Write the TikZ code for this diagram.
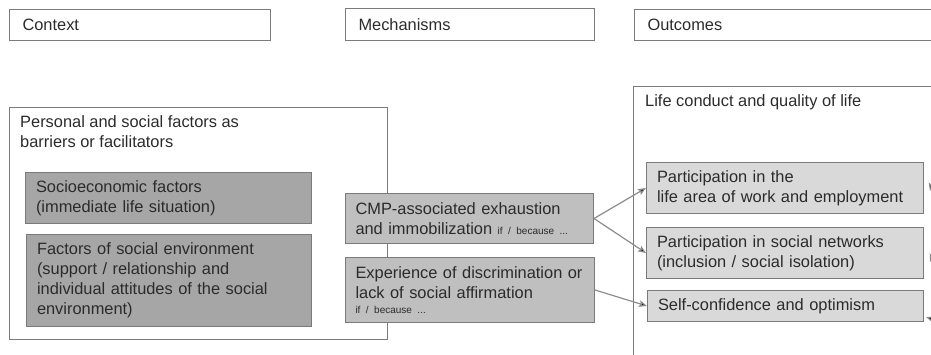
\documentclass[tikz,border=0pt]{standalone}
\usepackage{fontspec}
\setmainfont{Liberation Sans}
\usetikzlibrary{arrows.meta,positioning}
\definecolor{boxline}{HTML}{7A7A7A}
\definecolor{arrowgray}{HTML}{8C8C8C}
\definecolor{textgray}{HTML}{2B2B2B}
\definecolor{ctxfill}{HTML}{A6A6A6}
\definecolor{mechfill}{HTML}{BFBFBF}
\definecolor{outfill}{HTML}{D9D9D9}
\newcommand{\ifbecause}{{\fontsize{10}{12}\selectfont if / because ...}}

\begin{document}
\begin{tikzpicture}[x=1pt, y=-1pt, >={Stealth[length=8pt,width=6.5pt,inset=1.5pt]}, font=\fontsize{16.4}{20}\selectfont, text=textgray]
\tikzstyle{frame}=[draw=boxline, line width=1pt, anchor=north west, inner sep=0pt]
\tikzstyle{head}=[frame, align=left, inner xsep=13pt, text height=11.5pt, text depth=0pt]
\tikzstyle{factor}=[frame, fill=ctxfill, align=left, inner xsep=10.5pt]
\tikzstyle{mech}=[frame, fill=mechfill, align=left, inner xsep=10pt]
\tikzstyle{outcome}=[frame, fill=outfill, align=left, inner xsep=10.5pt]
\tikzstyle{title}=[anchor=north west, align=left, inner sep=0pt]
\tikzstyle{link}=[->, draw=arrowgray, line width=1.2pt]

\useasboundingbox (0,0) rectangle (931,354);
\clip (0,0) rectangle (931,354);

% column headers
\node[head, text width=235pt, minimum height=31pt] (ctxhead)  at (9,9)   {Context};
\node[head, text width=223pt, minimum height=32pt] (mechhead) at (345,8) {Mechanisms};
\node[head, text width=324pt, minimum height=31pt] (outhead)  at (634,9) {Outcomes};

% context
\node[frame, minimum width=378pt, minimum height=232pt] (ctx) at (9,107) {};
\node[title] (ctxtitle) at (20,115.3) {Personal and social factors as\\barriers or facilitators};
\node[factor, text width=265pt, minimum height=51pt] (socio)  at (25,172) {Socioeconomic factors\\(immediate life situation)};
\node[factor, text width=264pt, minimum height=92pt] (socenv) at (26,234) {Factors of social environment\\(support / relationship and\\individual attitudes of the social\\environment)};

% outcomes
\node[frame, minimum width=400pt, minimum height=320pt] (life) at (633,86) {};
\node[title] (lifetitle) at (645,94.3) {Life conduct and quality of life};
\node[outcome, text width=256pt, minimum height=51pt] (work)     at (646,162) {Participation in the\\life area of work and employment};
\node[outcome, text width=256pt, minimum height=51pt] (network)  at (646,227) {Participation in social networks\\(inclusion / social isolation)};
\node[outcome, text width=255pt, minimum height=31pt] (selfconf) at (647,290) {Self-confidence and optimism};

% mechanisms
\node[mech, text width=228pt, minimum height=50pt] (cmp)   at (345,193) {CMP-associated exhaustion\\and immobilization \ifbecause};
\node[mech, text width=229pt, minimum height=65pt] (discr) at (345,257) {Experience of discrimination or\\lack of social affirmation\\[-5pt]\ifbecause};

% arrows leaving the picture on the right
\coordinate (far1) at (940,150);
\coordinate (tip1) at (930,191);
\coordinate (far2) at (945,222);
\coordinate (tip2) at (930,262);
\coordinate (far3) at (965,330);
\coordinate (tip3) at (926,317);

\path[link]
(cmp.east)   edge (work.west)
(cmp.east)   edge (network.west)
(discr.east) edge (selfconf.west)
(far1) edge (tip1)
(far2) edge (tip2)
(far3) edge (tip3);
\end{tikzpicture}
\end{document}
